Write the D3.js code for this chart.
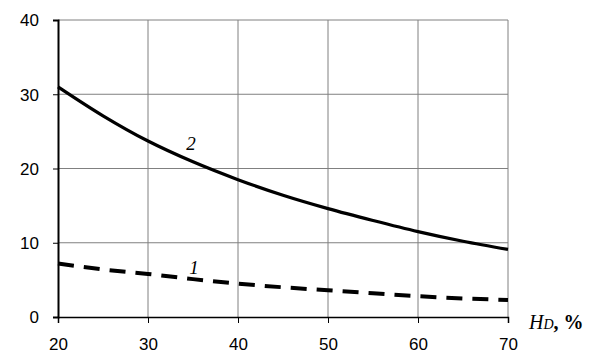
<!DOCTYPE html>
<html>
<head>
  <meta charset="utf-8">
  <script src="https://d3js.org/d3.v7.min.js"></script>
  <style>
    body { margin: 0; background: #fff; }
    .grid line { stroke: #808080; stroke-width: 1px; }
    .tick text { font-family: Arial, "Liberation Sans", sans-serif; font-size: 17px; fill: #000; }
  </style>
</head>
<body>
<script>
  var width = 600,
      height = 362;

  var xTicks = [20, 30, 40, 50, 60, 70];
  var yTicks = [0, 10, 20, 30, 40];

  var hd = [20, 25, 30, 35, 40, 45, 50, 55, 60, 65, 70];
  var curve2 = [31.0, 27.1, 23.7, 20.9, 18.5, 16.4, 14.6, 13.0, 11.5, 10.2, 9.1];
  var curve1 = [7.2, 6.4, 5.8, 5.1, 4.5, 4.0, 3.6, 3.2, 2.8, 2.5, 2.3];

  var svg = d3.select("body")
      .append("svg")
      .attr("width", width)
      .attr("height", height);

  var x = d3.scaleLinear().domain([20, 70]).range([58, 508]);
  var y = d3.scaleLinear().domain([0, 40]).range([317, 20]);

  // grid
  var grid = svg.append("g").attr("class", "grid");
  grid.selectAll(".gx")
      .data(xTicks.slice(1))
      .enter().append("line")
      .attr("x1", function(d) { return x(d); })
      .attr("x2", function(d) { return x(d); })
      .attr("y1", y(40))
      .attr("y2", y(0));
  grid.selectAll(".gy")
      .data(yTicks.slice(1))
      .enter().append("line")
      .attr("x1", x(20))
      .attr("x2", x(70))
      .attr("y1", function(d) { return y(d); })
      .attr("y2", function(d) { return y(d); });

  // axes
  var xAxis = d3.axisBottom(x).tickValues(xTicks).tickSize(6).tickPadding(15);
  var yAxis = d3.axisLeft(y).tickValues(yTicks).tickSize(5).tickPadding(14);

  var gx = svg.append("g")
      .attr("transform", "translate(0," + y(0) + ")")
      .call(xAxis);
  var gy = svg.append("g")
      .attr("transform", "translate(" + x(20) + ",0)")
      .call(yAxis);

  gx.select(".domain").attr("stroke", "#000").attr("stroke-width", 1.5);
  gy.select(".domain").attr("stroke", "#000").attr("stroke-width", 2);
  gx.selectAll(".tick line").attr("stroke", "#000");
  gy.selectAll(".tick line").attr("stroke", "#000");
  gy.selectAll(".tick text").attr("dy", "0.35em");

  var line = d3.line()
      .x(function(d, i) { return x(hd[i]); })
      .y(function(d) { return y(d); })
      .curve(d3.curveMonotoneX);

  svg.append("path")
      .datum(curve2)
      .attr("fill", "none")
      .attr("stroke", "#000")
      .attr("stroke-width", 3.2)
      .attr("d", line);

  svg.append("path")
      .datum(curve1)
      .attr("fill", "none")
      .attr("stroke", "#000")
      .attr("stroke-width", 4)
      .attr("stroke-dasharray", "16,10")
      .attr("d", line);

  // curve labels
  svg.append("text")
      .attr("x", 191).attr("y", 150)
      .attr("text-anchor", "middle")
      .style("font-family", "'Liberation Serif', 'DejaVu Serif', serif")
      .style("font-style", "italic")
      .style("font-size", "19px")
      .text("2");

  svg.append("text")
      .attr("x", 194).attr("y", 274)
      .attr("text-anchor", "middle")
      .style("font-family", "'Liberation Serif', 'DejaVu Serif', serif")
      .style("font-style", "italic")
      .style("font-size", "19px")
      .text("1");

  // axis title
  var t = svg.append("text")
      .attr("x", 529).attr("y", 329)
      .style("font-family", "'Liberation Serif', 'DejaVu Serif', serif")
      .style("font-size", "20px");
  t.append("tspan").style("font-style", "italic").text("H");
  t.append("tspan").style("font-style", "italic").style("font-size", "14px").text("D");
  t.append("tspan").style("font-weight", "bold").text(", %");
</script>
</body>
</html>
